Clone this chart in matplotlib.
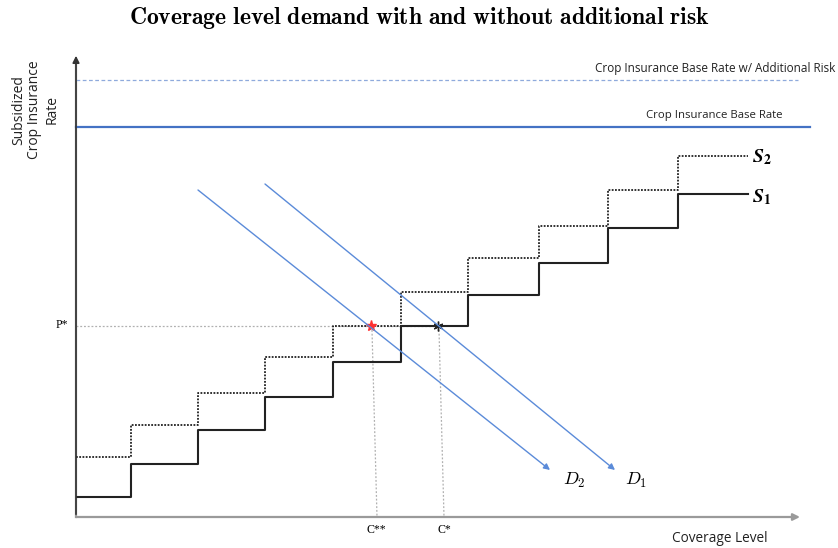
import matplotlib
matplotlib.use("Agg")
import matplotlib.pyplot as plt

plt.rcParams['mathtext.fontset'] = 'cm'

# ---- data (chart units: origin at axes corner) ----
step_edges = [0, 55, 122, 189, 257, 325, 392, 463, 532, 602, 672]
s1_levels = [20, 53, 87, 120, 155, 191, 222, 254, 289, 323]
s2_levels = [60, 92, 124, 160, 191, 225, 259, 291, 327, 361]
base_rate = 390
base_rate_risk = 437
d1_start, d1_end = (189, 333), (539, 47)
d2_start, d2_end = (122, 327), (474, 47)
p_star = 191
c_star = 362
c_star2 = 295

fig = plt.figure(figsize=(8.38, 5.48), dpi=100)
W, H = 838, 548
x0, y0 = 76, 517
ax = fig.add_axes([x0 / W, (H - y0) / H, (800 - x0) / W, (y0 - 40) / H])
ax.set_xlim(0, 724)
ax.set_ylim(0, 477)
ax.axis('off')

# axes arrows
ax.annotate('', xy=(0, 464), xytext=(0, 0),
            arrowprops=dict(arrowstyle='-|>', color='#333333', lw=1.2, mutation_scale=10),
            annotation_clip=False)
ax.annotate('', xy=(724, 0), xytext=(0, 0),
            arrowprops=dict(arrowstyle='-|>', color='#9a9a9a', lw=1.6, mutation_scale=10,
                            shrinkA=0, shrinkB=0),
            annotation_clip=False)
ax.plot([0, 0], [0, 455], color='#9a9a9a', lw=1.6, clip_on=False)

# base rate lines
ax.plot([0, 722], [base_rate_risk, base_rate_risk], color='#8FAADC', lw=0.9,
        ls=(0, (3, 2)), clip_on=False)
ax.plot([0, 734], [base_rate, base_rate], color='#4472C4', lw=1.6, clip_on=False)
ax.text(759, base_rate_risk + 5, 'Crop Insurance Base Rate w/ Additional Risk',
        ha='right', va='bottom', fontsize=8.5, family='Open Sans', color='#222222')
ax.text(638, base_rate + 6, 'Crop Insurance Base Rate',
        ha='center', va='bottom', fontsize=8.2, family='Open Sans', color='#222222')

# P* and C lines
ax.plot([0, c_star], [p_star, p_star], color='#b0b0b0', lw=0.9, ls=(0, (1.5, 1.5)))
ax.plot([c_star2 + 1, c_star2 + 6], [p_star - 4, 0], color='#b0b0b0', lw=0.9, ls=(0, (1.5, 1.5)))
ax.plot([c_star + 1, c_star + 6], [p_star - 4, 0], color='#b0b0b0', lw=0.9, ls=(0, (1.5, 1.5)))

# supply steps
ax.step(step_edges, s2_levels + [s2_levels[-1]], where='post', color='#222222',
        lw=1.3, ls=(0, (1, 0.8)))
ax.step(step_edges, s1_levels + [s1_levels[-1]], where='post', color='#222222', lw=1.5)

# demand arrows
for st, en in [(d1_start, d1_end), (d2_start, d2_end)]:
    ax.annotate('', xy=en, xytext=st,
                arrowprops=dict(arrowstyle='-|>', color='#5B8BD9', lw=1.0,
                                mutation_scale=9, shrinkA=0, shrinkB=0))

# equilibrium stars
ax.plot([c_star2], [p_star], marker='*', color='#ff3030', ms=8, mec='#ff3030')
ax.plot([c_star], [p_star], marker=(6, 2, 0), color='#222222', ms=7, mew=1.0)

# labels
ax.text(step_edges[-1] + 4, s2_levels[-1] - 1, r'$\mathbfit{S}_\mathbf{2}$',
        ha='left', va='center', fontsize=14, math_fontfamily='stix')
ax.text(step_edges[-1] + 4, s1_levels[-1] - 3, r'$\mathbfit{S}_\mathbf{1}$',
        ha='left', va='center', fontsize=14, math_fontfamily='stix')
ax.text(d2_end[0] + 13, d2_end[1] - 10, r'$D_2$', ha='left', va='center', fontsize=13)
ax.text(d1_end[0] + 10, d1_end[1] - 10, r'$D_1$', ha='left', va='center', fontsize=13)

ax.text(-8, p_star + 1, 'P*', ha='right', va='center', fontsize=8.5, family='Liberation Serif')
ax.text(c_star2 + 5, -13, 'C**', ha='center', va='center', fontsize=8.5, family='Liberation Serif')
ax.text(c_star + 6, -13, 'C*', ha='center', va='center', fontsize=8.5, family='Liberation Serif')
ax.text(644, -21, 'Coverage Level', ha='center', va='center', fontsize=9.8,
        family='Open Sans', color='#222222')
ax.text(-41, 407, 'Subsidized\nCrop Insurance\nRate', ha='center', va='center',
        rotation=90, fontsize=10, family='Open Sans', color='#222222', linespacing=1.15)

fig.text(0.5, 1 - 18 / H,
         r'$\mathbf{Coverage\ level\ demand\ with\ and\ without\ additional\ risk}$',
         ha='center', va='center', fontsize=17)

fig.savefig('out.png', dpi=100)
